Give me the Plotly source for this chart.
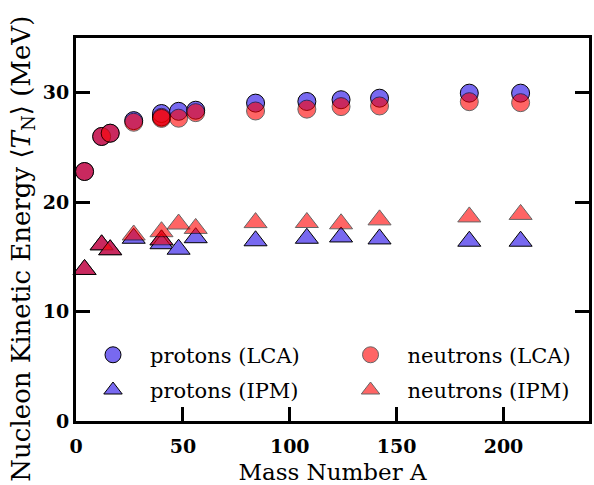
import plotly.graph_objects as go

# Mass numbers (two A=40 nuclei: 40Ca and 40Ar)
mass_number = [4, 12, 16, 27, 40, 40, 48, 56, 84, 108, 124, 142, 184, 208]

protons_lca = [22.8, 26.0, 26.3, 27.45, 27.8, 28.1, 28.3, 28.4, 29.05, 29.2, 29.36, 29.5, 29.96, 29.96]
neutrons_lca = [22.8, 26.0, 26.3, 27.3, 27.75, 27.65, 27.67, 28.18, 28.33, 28.5, 28.73, 28.79, 29.18, 29.09]

protons_ipm = [13.85, 16.1, 15.65, 16.7, 16.55, 16.2, 15.7, 16.75, 16.47, 16.7, 16.82, 16.64, 16.43, 16.43]
neutrons_ipm = [13.85, 16.1, 15.65, 17.0, 16.56, 17.3, 18.0, 17.6, 18.13, 18.14, 18.02, 18.38, 18.65, 18.88]

x_ticks = [0, 50, 100, 150, 200]
y_ticks = [0, 10, 20, 30]

FONT = "DejaVu Serif"
BLUE = "rgb(120,105,240)"
RED = "rgb(255,0,0)"

fig = go.Figure()

fig.add_trace(go.Scatter(
    x=mass_number, y=protons_lca, mode="markers", name="protons (LCA)",
    marker=dict(symbol="circle", size=18, color=BLUE, line=dict(color="black", width=1)),
    cliponaxis=False, legend="legend", showlegend=True))
fig.add_trace(go.Scatter(
    x=mass_number, y=neutrons_lca, mode="markers", name="neutrons (LCA)",
    marker=dict(symbol="circle", size=18, color=RED, opacity=0.6, line=dict(color="black", width=1)),
    cliponaxis=False, legend="legend2", showlegend=True))
fig.add_trace(go.Scatter(
    x=mass_number, y=protons_ipm, mode="markers", name="protons (IPM)",
    marker=dict(symbol="triangle-up", size=20, color=BLUE, line=dict(color="black", width=1)),
    cliponaxis=False, legend="legend3", showlegend=True))
fig.add_trace(go.Scatter(
    x=mass_number, y=neutrons_ipm, mode="markers", name="neutrons (IPM)",
    marker=dict(symbol="triangle-up", size=20, color=RED, opacity=0.6, line=dict(color="black", width=1)),
    cliponaxis=False, legend="legend4", showlegend=True))

legend_common = dict(
    orientation="v", xanchor="left", yanchor="middle",
    bgcolor="rgba(0,0,0,0)", font=dict(family=FONT, size=21, color="black"),
    itemwidth=64,
)

fig.update_layout(
    width=594, height=485,
    margin=dict(l=76, r=2, t=38, b=61),
    paper_bgcolor="white", plot_bgcolor="white",
    font=dict(family=FONT, color="black"),
    showlegend=True,
    legend=dict(x=0.0, y=0.172, **legend_common),
    legend2=dict(x=0.502, y=0.172, **legend_common),
    legend3=dict(x=0.0, y=0.080, **legend_common),
    legend4=dict(x=0.502, y=0.080, **legend_common),
    xaxis=dict(
        range=[0, 240], tickvals=x_ticks, ticktext=[str(v) for v in x_ticks],
        ticks="inside", ticklen=14, tickwidth=3, tickcolor="black",
        showline=True, linewidth=3, linecolor="black", mirror=True,
        showgrid=False, zeroline=False, ticklabelstandoff=6,
        tickfont=dict(family=FONT, size=19, weight="bold"),
        title=dict(text="Mass Number A", font=dict(family=FONT, size=23), standoff=10),
    ),
    yaxis=dict(
        range=[0, 35], tickvals=y_ticks, ticktext=[str(v) for v in y_ticks],
        ticks="inside", ticklen=14, tickwidth=3, tickcolor="black",
        showline=True, linewidth=3, linecolor="black", mirror="ticks",
        showgrid=False, zeroline=False,
        tickfont=dict(family=FONT, size=19, weight="bold"),
    ),
    annotations=[dict(
        text="Nucleon Kinetic Energy ⟨<i>T</i><sub>N</sub>⟩ (MeV)",
        xref="paper", yref="paper", x=-0.1047, y=0.4508,
        xanchor="center", yanchor="middle", textangle=-90, showarrow=False,
        font=dict(family=FONT, size=26, color="black"),
    )],
)

fig.write_html("out.html", config={"displayModeBar": False},
               post_script="document.body.style.margin='0';document.body.style.overflow='hidden';")
